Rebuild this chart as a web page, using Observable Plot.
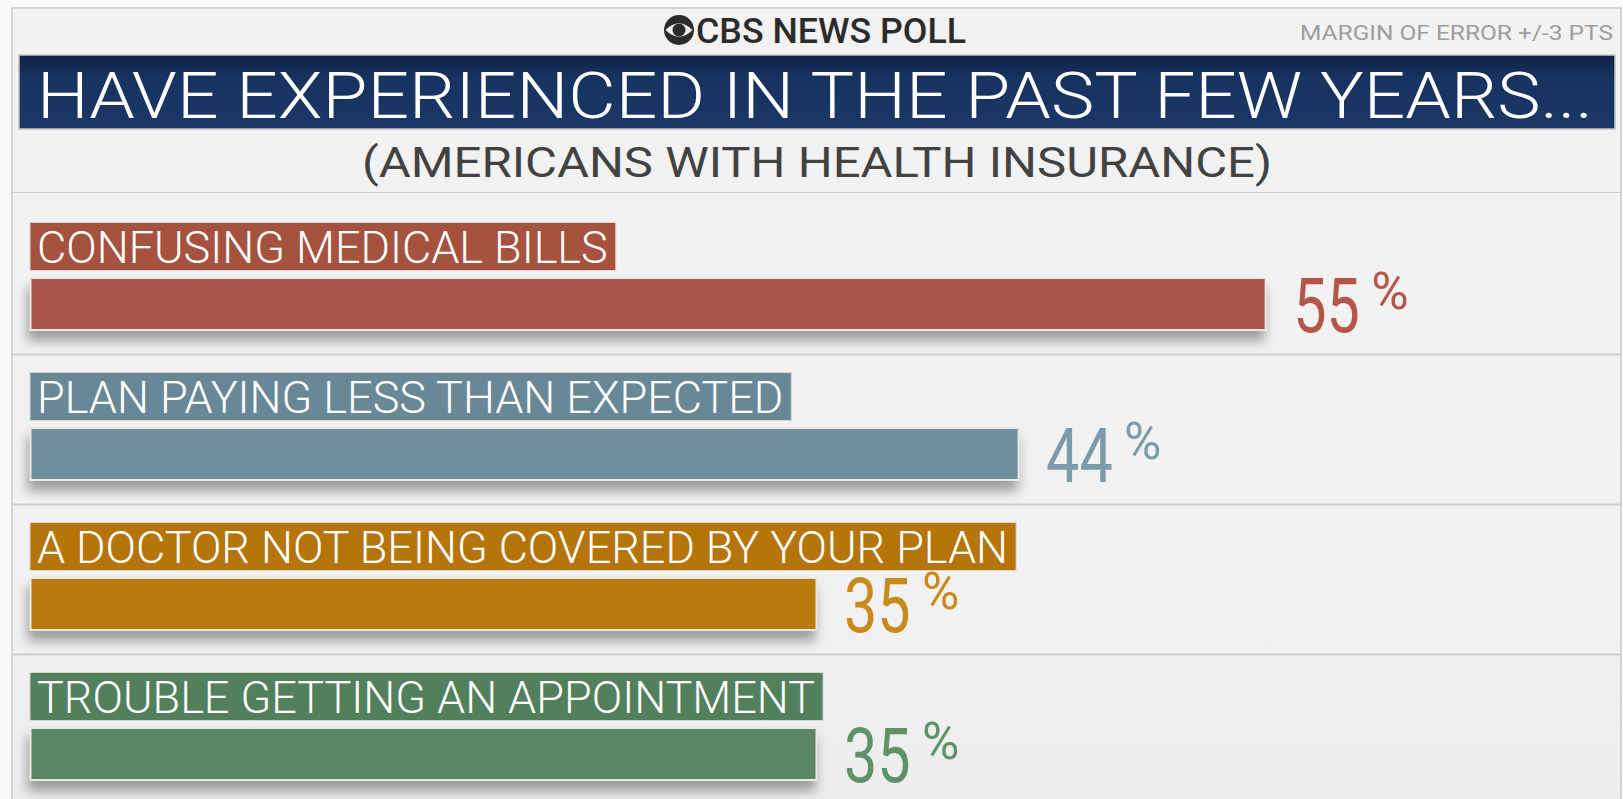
<!DOCTYPE html>
<html>
<head>
<meta charset="utf-8">
<script src="https://cdn.jsdelivr.net/npm/d3@7"></script>
<script src="https://cdn.jsdelivr.net/npm/@observablehq/plot@0.6"></script>
<style>
  html, body { margin: 0; padding: 0; overflow: hidden; background: #fafafa; }
  body { width: 1623px; height: 799px; position: relative; font-family: Roboto, "Noto Sans", sans-serif; }
  #panel { position: absolute; left: 11px; top: 7px; width: 1611px; height: 830px; box-sizing: border-box;
           background: linear-gradient(180deg, #f2f2f2 0%, #f1f1f1 75%, #ececec 100%); border: 2px solid #d4d4d4; }
  #header { position: absolute; left: 0; top: 0; }
  #chart { position: absolute; left: 0; top: 193px; }
</style>
</head>
<body>
<div id="panel"></div>
<svg id="header" width="1623" height="193" xmlns="http://www.w3.org/2000/svg">
  <defs>
    <linearGradient id="navy" x1="0" y1="0" x2="0" y2="1">
      <stop offset="0" stop-color="#0f2245"/>
      <stop offset="0.3" stop-color="#173360"/>
      <stop offset="1" stop-color="#1a3766"/>
    </linearGradient>
  </defs>
  <circle cx="679" cy="30" r="15" fill="#2b2b2b"/>
  <path d="M665.5 30 Q679 16.5 692.5 30 Q679 43.5 665.5 30 Z" fill="#f2f2f2"/>
  <circle cx="679" cy="30" r="6.5" fill="#2b2b2b"/>
  <text id="cbs" x="696" y="43" font-family="Roboto" font-weight="500" font-size="35" fill="#2b2b2b" textLength="270" lengthAdjust="spacingAndGlyphs">CBS NEWS POLL</text>
  <text id="moe" x="1300" y="40" font-family="Roboto" font-size="21" fill="#9d9d9d" textLength="313" lengthAdjust="spacingAndGlyphs">MARGIN OF ERROR +/-3 PTS</text>
  <rect x="19" y="55" width="1596" height="74" fill="url(#navy)" stroke="#c4c4c4" stroke-width="1.5"/>
  <text id="title" x="37" y="118" font-family="Roboto" font-weight="300" font-size="64" fill="#ffffff" textLength="1556" lengthAdjust="spacingAndGlyphs">HAVE EXPERIENCED IN THE PAST FEW YEARS...</text>
  <text id="subtitle" x="362" y="177" font-family="Roboto" font-size="43" fill="#424242" textLength="910" lengthAdjust="spacingAndGlyphs">(AMERICANS WITH HEALTH INSURANCE)</text>
  <line x1="12" x2="1621" y1="193" y2="193" stroke="#cfcfcf" stroke-width="2"/>
</svg>
<div id="chart"></div>
<script>
// ---- data ----
const categories = [
  "CONFUSING MEDICAL BILLS",
  "PLAN PAYING LESS THAN EXPECTED",
  "A DOCTOR NOT BEING COVERED BY YOUR PLAN",
  "TROUBLE GETTING AN APPOINTMENT"
];
const values = [55, 44, 35, 35];
const barColors = ["#a9574a", "#6f8f9c", "#bb7a0c", "#5a8864"];
const labelColors = ["#a5523f", "#698895", "#b5750a", "#527f5c"];
const valueColors = ["#b35848", "#7b9baa", "#c98a1c", "#5f9367"];

const rows = categories.map((c, i) => ({
  category: c, value: values[i], bar: barColors[i], label: labelColors[i], tcolor: valueColors[i]
}));

const chart = Plot.plot({
  width: 1623,
  height: 606,
  marginLeft: 30.5,
  marginRight: 20.5,
  marginTop: 0,
  marginBottom: 0,
  style: {background: "transparent", overflow: "visible", fontFamily: "Roboto"},
  x: {domain: [0, 70], axis: null},
  y: {domain: categories, range: [11, 611], padding: 0, axis: null},
  color: {type: "identity"},
  marks: [
    Plot.ruleY(categories.slice(0, 3), {dy: 75, stroke: "#cfcfcf", strokeWidth: 2, insetLeft: -18.5, insetRight: -18.5}),
    Plot.barX(rows, {x: "value", y: "category", fill: "bar", insetTop: 74, insetBottom: 24, stroke: "#ebe8e4", strokeWidth: 2}),
    Plot.text(rows, {x: () => 0, y: "category", text: "category", textAnchor: "start", lineAnchor: "middle",
      dx: 6, dy: -30.5, fill: "white", fontSize: 45, fontWeight: 300, fontFamily: "Roboto"}),
    Plot.text(rows, {x: "value", y: "category", text: d => String(d.value), textAnchor: "start", lineAnchor: "middle",
      dx: 27, dy: 28.5, fill: "tcolor", fontSize: 76, fontFamily: "Roboto"}),
    Plot.text(rows, {x: "value", y: "category", text: () => "%", textAnchor: "start", lineAnchor: "top",
      dx: 105, dy: -7, fill: "tcolor", fontSize: 51, fontFamily: "Roboto"})
  ]
});
document.getElementById("chart").appendChild(chart);

// bar shadow
const barG = chart.querySelector('g[aria-label="bar"]');
if (barG) barG.style.filter = "drop-shadow(-2px 10px 6px rgba(0,0,0,0.35))";

const textGroups = chart.querySelectorAll('g[aria-label="text"]');
// label background boxes sized to the measured label text
textGroups[0].querySelectorAll("text").forEach((t, i) => {
  const bb = t.getBBox();
  const r = document.createElementNS("http://www.w3.org/2000/svg", "rect");
  r.setAttribute("transform", t.getAttribute("transform"));
  r.setAttribute("x", bb.x - 7);
  r.setAttribute("y", -26.5);
  r.setAttribute("width", bb.width + 15);
  r.setAttribute("height", 48);
  r.setAttribute("fill", rows[i].label);
  r.setAttribute("stroke", "#d9d6d2");
  r.setAttribute("stroke-width", 1);
  t.parentNode.insertBefore(r, t);
});
// condensed numerals
textGroups[1].querySelectorAll("text").forEach(t => {
  t.setAttribute("transform", t.getAttribute("transform") + " scale(0.78,1)");
});
</script>
</body>
</html>
